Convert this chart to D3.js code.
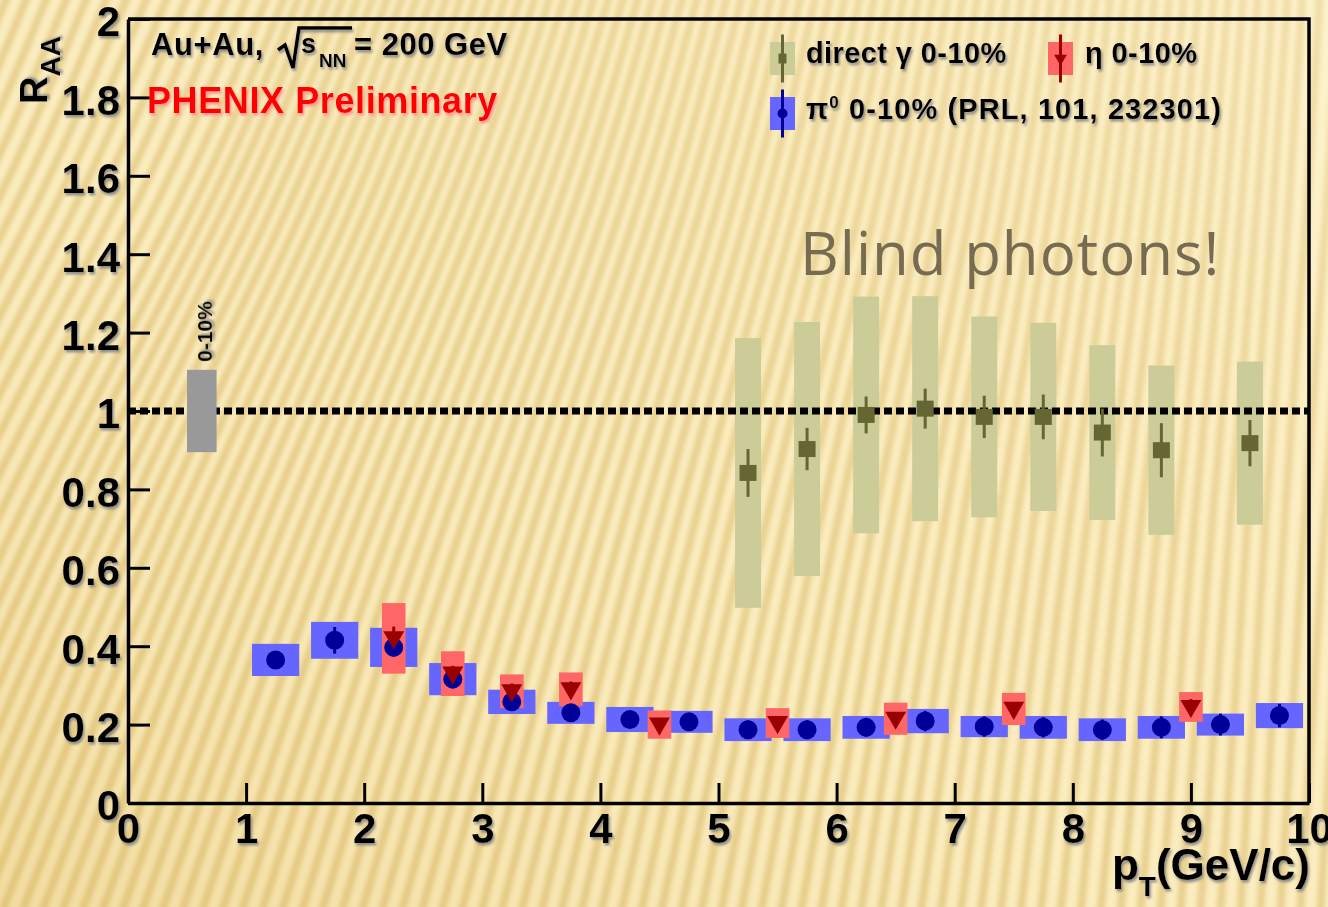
<!DOCTYPE html>
<html><head><meta charset="utf-8">
<script src="https://cdn.jsdelivr.net/npm/d3@7"></script>
<style>
html,body{margin:0;padding:0;background:#fbecc0;overflow:hidden}
svg{display:block}
text{font-family:"Liberation Sans",Arial,Helvetica,sans-serif;font-weight:bold}
text.note{font-family:"Open Sans","Noto Sans",sans-serif;font-weight:normal}
</style></head><body>
<svg id="chart" width="1328" height="907"></svg>
<script>
// direct photon R_AA, 0-10% central Au+Au
const gammaPt   = [5.25, 5.75, 6.25, 6.75, 7.25, 7.75, 8.25, 8.75, 9.5];
const gammaRaa  = [0.842, 0.903, 0.99, 1.006, 0.985, 0.985, 0.945, 0.90, 0.918];
const gammaStat = [0.061, 0.054, 0.047, 0.051, 0.054, 0.057, 0.061, 0.069, 0.059];
const gammaSys  = [0.344, 0.324, 0.302, 0.287, 0.256, 0.24, 0.223, 0.216, 0.208];

// eta R_AA, 0-10%
const etaPt   = [2.25, 2.75, 3.25, 3.75, 4.5, 5.5, 6.5, 7.5, 9.0];
const etaRaa  = [0.42, 0.33, 0.285, 0.29, 0.2, 0.204, 0.215, 0.24, 0.245];
const etaStat = [0.03, 0.02, 0.02, 0.02, 0.015, 0.015, 0.015, 0.015, 0.02];
const etaSys  = [0.09, 0.057, 0.043, 0.043, 0.036, 0.038, 0.041, 0.041, 0.038];

// pi0 R_AA, 0-10% (PRL 101, 232301)
const pi0Pt   = [1.25, 1.75, 2.25, 2.75, 3.25, 3.75, 4.25, 4.75, 5.25, 5.75, 6.25, 6.75, 7.25, 7.75, 8.25, 8.75, 9.25, 9.75];
const pi0Raa  = [0.365, 0.415, 0.397, 0.316, 0.258, 0.23, 0.213, 0.207, 0.187, 0.187, 0.193, 0.209, 0.195, 0.193, 0.187, 0.193, 0.2, 0.223];
const pi0Stat = [0.02, 0.034, 0.02, 0.018, 0.016, 0.018, 0.02, 0.022, 0.024, 0.024, 0.024, 0.026, 0.026, 0.026, 0.026, 0.028, 0.028, 0.03];
const pi0Sys  = [0.041, 0.047, 0.05, 0.041, 0.031, 0.028, 0.032, 0.028, 0.029, 0.029, 0.029, 0.031, 0.027, 0.029, 0.029, 0.029, 0.028, 0.032];

// overall normalisation uncertainty (0-10%) drawn at unity
const normValue = 1;
const normUnc = 0.105;
const normLabel = "0-10%";

// axes
const xTicks = [0, 1, 2, 3, 4, 5, 6, 7, 8, 9, 10];
const xTickLabels = ["0", "1", "2", "3", "4", "5", "6", "7", "8", "9", "10"];
const yTicks = [0, 0.2, 0.4, 0.6, 0.8, 1, 1.2, 1.4, 1.6, 1.8, 2];
const yTickLabels = ["0", "0.2", "0.4", "0.6", "0.8", "1", "1.2", "1.4", "1.6", "1.8", "2"];

const W = 1328, H = 907;
const svg = d3.select("#chart");
const defs = svg.append("defs");

// ---------- background: cream with soft golden streaks ----------
defs.append("filter").attr("id", "soft").attr("x", "-5%").attr("y", "-5%").attr("width", "110%").attr("height", "110%")
  .append("feGaussianBlur").attr("stdDeviation", 2.3);

const maskGrad = defs.append("linearGradient").attr("id", "maskGrad")
  .attr("x1", 0).attr("y1", 1).attr("x2", 1).attr("y2", 0);
maskGrad.append("stop").attr("offset", 0).attr("stop-color", "#fff");
maskGrad.append("stop").attr("offset", 0.5).attr("stop-color", "#d0d0d0");
maskGrad.append("stop").attr("offset", 1).attr("stop-color", "#808080");
defs.append("mask").attr("id", "streakMask")
  .append("rect").attr("width", W).attr("height", H).attr("fill", "url(#maskGrad)");

const tint = defs.append("linearGradient").attr("id", "tint")
  .attr("x1", 0).attr("y1", 1).attr("x2", 0.9).attr("y2", 0);
tint.append("stop").attr("offset", 0).attr("stop-color", "#ecd08a").attr("stop-opacity", 0.6);
tint.append("stop").attr("offset", 0.45).attr("stop-color", "#f5e2a8").attr("stop-opacity", 0.15);
tint.append("stop").attr("offset", 1).attr("stop-color", "#fff5d4").attr("stop-opacity", 0.4);

const bg = svg.append("g");
bg.append("rect").attr("width", W).attr("height", H).attr("fill", "#fcefc4");
bg.append("rect").attr("width", W).attr("height", H).attr("fill", "url(#tint)");

const streakLine = d3.line().curve(d3.curveBasis);
const streaks = [];
for (let i = -28; i < 80; i++) {
  const xb = i * 20;
  const t = Math.max(0, Math.min(1, (xb + 150) / 1400));
  const lean = 430 * (1 - t) + 60 * t;
  streaks.push([[xb, H + 10], [xb + lean * 0.42, H * 0.55], [xb + lean * 0.8, H * 0.22], [xb + lean, -10]]);
}
bg.append("g").attr("mask", "url(#streakMask)").attr("filter", "url(#soft)")
  .selectAll("path").data(streaks).join("path")
  .attr("d", streakLine).attr("fill", "none")
  .attr("stroke", "#dcbc6c").attr("stroke-opacity", 0.7).attr("stroke-width", 8);

// ---------- scales ----------
const x = d3.scaleLinear().domain([0, 10]).range([128, 1309]);
const y = d3.scaleLinear().domain([0, 2]).range([803, 19]);

// text shadows
const sh = defs.append("filter").attr("id", "tshadow").attr("x", "-10%").attr("y", "-20%").attr("width", "130%").attr("height", "160%");
sh.append("feDropShadow").attr("dx", 1.5).attr("dy", 2.5).attr("stdDeviation", 1)
  .attr("flood-color", "#808080").attr("flood-opacity", 0.85);
const shr = defs.append("filter").attr("id", "rshadow").attr("x", "-10%").attr("y", "-20%").attr("width", "130%").attr("height", "160%");
shr.append("feDropShadow").attr("dx", 1.5).attr("dy", 2.5).attr("stdDeviation", 1)
  .attr("flood-color", "#ff9090").attr("flood-opacity", 0.9);

const plot = svg.append("g");

// systematic boxes
const gammaHalfW = 0.11, etaHalfW = 0.1, pi0HalfW = 0.2;

plot.append("g").selectAll("rect").data(gammaPt.map((p, i) => ({ p, v: gammaRaa[i], s: gammaSys[i] }))).join("rect")
  .attr("x", d => x(d.p - gammaHalfW)).attr("width", d => x(d.p + gammaHalfW) - x(d.p - gammaHalfW))
  .attr("y", d => y(d.v + d.s)).attr("height", d => y(d.v - d.s) - y(d.v + d.s))
  .attr("fill", "#cccc99");

plot.append("g").selectAll("rect").data(pi0Pt.map((p, i) => ({ p, v: pi0Raa[i], s: pi0Sys[i] }))).join("rect")
  .attr("x", d => x(d.p - pi0HalfW)).attr("width", d => x(d.p + pi0HalfW) - x(d.p - pi0HalfW))
  .attr("y", d => y(d.v + d.s)).attr("height", d => y(d.v - d.s) - y(d.v + d.s))
  .attr("fill", "#6666ff");

plot.append("g").selectAll("rect").data(etaPt.map((p, i) => ({ p, v: etaRaa[i], s: etaSys[i] }))).join("rect")
  .attr("x", d => x(d.p - etaHalfW)).attr("width", d => x(d.p + etaHalfW) - x(d.p - etaHalfW))
  .attr("y", d => y(d.v + d.s)).attr("height", d => y(d.v - d.s) - y(d.v + d.s))
  .attr("fill", "#ff6666");

// unity reference line
plot.append("line")
  .attr("x1", x(0)).attr("x2", x(10)).attr("y1", y(1)).attr("y2", y(1))
  .attr("stroke", "#000").attr("stroke-width", 7).attr("stroke-dasharray", "8,4");

// normalisation box
plot.append("rect")
  .attr("x", x(0.5)).attr("width", x(0.75) - x(0.5))
  .attr("y", y(normValue + normUnc)).attr("height", y(normValue - normUnc) - y(normValue + normUnc))
  .attr("fill", "#999999");
plot.append("text")
  .attr("transform", `translate(${x(0.5) + 25},${y(normValue + normUnc) - 8}) rotate(-90)`)
  .attr("font-size", 21).attr("fill", "#000").attr("filter", "url(#tshadow)")
  .text(normLabel);

// statistical bars
function statBars(pt, v, e, color) {
  plot.append("g").selectAll("line").data(pt.map((p, i) => ({ p, v: v[i], e: e[i] }))).join("line")
    .attr("x1", d => x(d.p)).attr("x2", d => x(d.p))
    .attr("y1", d => y(d.v + d.e)).attr("y2", d => y(d.v - d.e))
    .attr("stroke", color).attr("stroke-width", 3);
}
statBars(pi0Pt, pi0Raa, pi0Stat, "#000099");
statBars(etaPt, etaRaa, etaStat, "#990000");
statBars(gammaPt, gammaRaa, gammaStat, "#666633");

// markers
plot.append("g").selectAll("circle").data(pi0Pt.map((p, i) => ({ p, v: pi0Raa[i] }))).join("circle")
  .attr("cx", d => x(d.p)).attr("cy", d => y(d.v)).attr("r", 9.5).attr("fill", "#000099");

const triDown = d3.symbol().type(d3.symbolTriangle).size(190);
plot.append("g").selectAll("path").data(etaPt.map((p, i) => ({ p, v: etaRaa[i] }))).join("path")
  .attr("d", triDown)
  .attr("transform", d => `translate(${x(d.p)},${y(d.v) - 1}) rotate(180)`)
  .attr("fill", "#990000");

plot.append("g").selectAll("rect").data(gammaPt.map((p, i) => ({ p, v: gammaRaa[i] }))).join("rect")
  .attr("x", d => x(d.p) - 8.5).attr("y", d => y(d.v) - 8).attr("width", 17).attr("height", 16)
  .attr("fill", "#666633");

// ---------- axes ----------
const axisFont = 42;
const gx = svg.append("g").attr("transform", `translate(0,${y(0)})`);
gx.call(d3.axisBottom(x).tickValues(d3.range(0.5, 10, 1)).tickSizeInner(-10).tickSizeOuter(0).tickFormat(""));
gx.call(d3.axisBottom(x).tickValues(xTicks).tickSizeInner(-20).tickSizeOuter(0).tickPadding(10)
  .tickFormat((d, i) => xTickLabels[i]));
const gy = svg.append("g").attr("transform", `translate(${x(0)},0)`);
gy.call(d3.axisLeft(y).tickValues(d3.range(0.1, 2, 0.2)).tickSizeInner(-11).tickSizeOuter(0).tickFormat(""));
gy.call(d3.axisLeft(y).tickValues(yTicks).tickSizeInner(-22).tickSizeOuter(0).tickPadding(8)
  .tickFormat((d, i) => yTickLabels[i]));

svg.selectAll(".domain").attr("stroke", "#000").attr("stroke-width", 3.5);
svg.selectAll(".tick line").attr("stroke", "#000").attr("stroke-width", 3);
gx.selectAll("text").attr("font-size", axisFont).attr("font-family", "Liberation Sans, Arial, sans-serif")
  .attr("font-weight", "bold").attr("fill", "#000").attr("filter", "url(#tshadow)");
gy.selectAll("text").attr("font-size", axisFont).attr("font-family", "Liberation Sans, Arial, sans-serif")
  .attr("font-weight", "bold").attr("fill", "#000").attr("dy", "0.4em").attr("filter", "url(#tshadow)");

// frame top & right
svg.append("path")
  .attr("d", `M${x(0)},${y(2)}H${x(10)}V${y(0)}`)
  .attr("fill", "none").attr("stroke", "#000").attr("stroke-width", 3.5);

// axis titles
const ytitle = svg.append("text").attr("transform", `translate(47,104) rotate(-90)`)
  .attr("fill", "#000").attr("filter", "url(#tshadow)");
ytitle.append("tspan").attr("font-size", 38).text("R");
ytitle.append("tspan").attr("font-size", 28).attr("dy", 13).text("AA");

const xtitle = svg.append("text").attr("x", 1310).attr("y", 880).attr("text-anchor", "end")
  .attr("fill", "#000").attr("filter", "url(#tshadow)");
xtitle.append("tspan").attr("font-size", 44).text("p");
xtitle.append("tspan").attr("font-size", 28).attr("dy", 16).text("T");
xtitle.append("tspan").attr("font-size", 44).attr("dy", -16).text("(GeV/c)");

// ---------- annotations ----------
const sys = svg.append("g").attr("filter", "url(#tshadow)").attr("fill", "#000");
sys.append("text").attr("x", 151).attr("y", 55).attr("font-size", 31).attr("letter-spacing", 0.6).text("Au+Au,");
sys.append("path").attr("d", "M278,50 L285,45 L293,68 L299,28 L352,28")
  .attr("fill", "none").attr("stroke", "#000").attr("stroke-width", 3.5);
sys.append("text").attr("x", 301).attr("y", 53).attr("font-size", 27).text("s");
sys.append("text").attr("x", 319).attr("y", 67).attr("font-size", 19).text("NN");
sys.append("text").attr("x", 354).attr("y", 55).attr("font-size", 31).attr("letter-spacing", 0.5).text("= 200 GeV");

svg.append("text").attr("x", 147).attr("y", 113).attr("font-size", 36).attr("letter-spacing", 0.6)
  .attr("fill", "#ff0000").attr("filter", "url(#rshadow)").text("PHENIX Preliminary");

svg.append("text").attr("class", "note").attr("x", 800).attr("y", 275)
  .attr("font-size", 60).attr("letter-spacing", 1).attr("fill", "#776c52").text("Blind photons!");

// ---------- legend ----------
const leg = svg.append("g");
function legendEntry(cx, cy, boxColor, markColor, shape) {
  leg.append("rect").attr("x", cx - 12.5).attr("y", cy - 16.5).attr("width", 25).attr("height", 33).attr("fill", boxColor);
  leg.append("line").attr("x1", cx).attr("x2", cx).attr("y1", cy - 24).attr("y2", cy + 24)
    .attr("stroke", markColor).attr("stroke-width", 3);
  if (shape === "square") {
    leg.append("rect").attr("x", cx - 4).attr("y", cy - 5).attr("width", 8).attr("height", 10).attr("fill", markColor);
  } else if (shape === "tri") {
    leg.append("path").attr("d", d3.symbol().type(d3.symbolTriangle).size(70))
      .attr("transform", `translate(${cx},${cy}) rotate(180)`).attr("fill", markColor);
  } else {
    leg.append("circle").attr("cx", cx).attr("cy", cy).attr("r", 5).attr("fill", markColor);
  }
}
legendEntry(782.5, 58.5, "#cccc99", "#666633", "square");
legendEntry(1060.5, 58.5, "#ff6666", "#990000", "tri");
legendEntry(782.5, 113.5, "#6666ff", "#000099", "circle");

const lt = svg.append("g").attr("filter", "url(#tshadow)").attr("fill", "#000").attr("font-size", 29);
lt.append("text").attr("x", 806).attr("y", 63).attr("letter-spacing", 0.4).text("direct γ 0-10%");
lt.append("text").attr("x", 1085).attr("y", 63).attr("letter-spacing", 0.4).text("η 0-10%");
const pl = lt.append("text").attr("x", 806).attr("y", 119).attr("letter-spacing", 1.1);
pl.append("tspan").text("π");
pl.append("tspan").attr("font-size", 17).attr("dy", -11).text("0");
pl.append("tspan").attr("dy", 11).text(" 0-10% (PRL, 101, 232301)");
</script>
</body></html>
